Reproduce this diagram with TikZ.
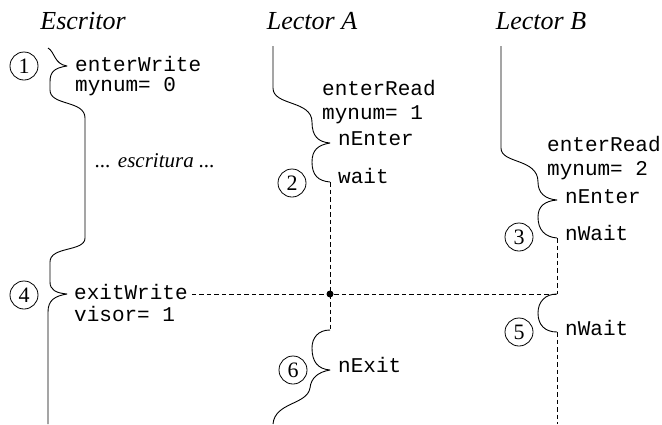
\documentclass[tikz,border=0pt]{standalone}
\usepackage{fontspec}
\setmainfont{Liberation Serif}
\setmonofont{Liberation Mono}
\begin{document}
\begin{tikzpicture}[x=1pt,y=-1pt,
  lifeline/.style={line width=0.9pt, line join=round},
  waitline/.style={line width=0.9pt, dash pattern=on 4.5pt off 3pt},
  title/.style={font=\fontsize{26}{30}\selectfont\itshape, anchor=base, inner sep=0},
  code/.style={font=\fontsize{21}{24}\ttfamily, anchor=base west, inner sep=0},
  note/.style={font=\fontsize{21}{24}\selectfont\itshape, anchor=base west, inner sep=0},
  stepnum/.style={circle, draw, line width=0.8pt, inner sep=0, minimum size=28pt,
    font=\fontsize{22}{24}\selectfont}]
\useasboundingbox (0,0) rectangle (662,424);

% column headings
\node[title] (tw) at (83,29) {Escritor};
\node[title] (ta) at (312,29) {Lector A};
\node[title] (tb) at (541,29) {Lector B};

% writer
\draw[lifeline] (48,48) .. controls (55,52) and (54,64) .. (67,66)
  .. controls (54,68) and (50,72) .. (50,82) -- (50,90)
  .. controls (50,106) and (85,100) .. (85,118) -- (85,238)
  .. controls (85,252) and (50,246) .. (50,262) -- (50,282)
  .. controls (50,290) and (56,293) .. (67,294)
  .. controls (55,296) and (48,300) .. (48,312) -- (48,424);
\node[stepnum] (s1) at (24,66) {1};
\node[code] (ew) at (75,71) {enterWrite};
\node[code] (m0) at (75,91) {mynum= 0};
\node[note] (es) at (95,167) {... escritura ...};
\node[stepnum] (s4) at (24,295) {4};
\node[code] (xw) at (74,299) {exitWrite};
\node[code] (v1) at (74,321) {visor= 1};

% reader A
\draw[lifeline] (273,46) -- (273,88)
  .. controls (273,106) and (312,100) .. (312,122)
  .. controls (312,136) and (318,142) .. (330,143)
  .. controls (318,145) and (312,150) .. (312,162)
  .. controls (312,175) and (318,181) .. (330,182);
\draw[waitline] (330,182) -- (330,330);
\draw[lifeline] (330,330) .. controls (318,330) and (312,338) .. (312,348)
  .. controls (312,362) and (318,369) .. (330,370)
  .. controls (318,372) and (311,378) .. (310,388)
  .. controls (307,405) and (275,402) .. (273,424);
\node[code] (ra) at (322,95) {enterRead};
\node[code] (m1) at (322,119) {mynum= 1};
\node[code] (na) at (338,145) {nEnter};
\node[code] (wa) at (338,183) {wait};
\node[stepnum] (s2) at (292,183) {2};
\node[code] (xa) at (338,372) {nExit};
\node[stepnum] (s6) at (293,370) {6};

% reader B
\draw[lifeline] (501,46) -- (501,148)
  .. controls (501,164) and (538,158) .. (538,182)
  .. controls (538,193) and (545,199) .. (557,200)
  .. controls (545,201) and (538,206) .. (538,217)
  .. controls (538,230) and (545,237) .. (557,238);
\draw[waitline] (557,238) -- (557,294);
\draw[lifeline] (557,294) .. controls (545,294) and (538,302) .. (538,313)
  .. controls (538,325) and (545,332) .. (557,332);
\draw[waitline] (557,332) -- (557,424);
\node[code] (rb) at (547,151) {enterRead};
\node[code] (m2) at (547,175) {mynum= 2};
\node[code] (nb) at (565,203) {nEnter};
\node[code] (wb) at (565,240) {nWait};
\node[stepnum] (s3) at (519,237) {3};
\node[code] (wb2) at (565,335) {nWait};
\node[stepnum] (s5) at (519,332) {5};

% release signal from the writer
\coordinate (sig) at (330,294);
\draw[waitline] (xw.east |- sig) ++(4,0) -- (557,294);
\fill (sig) circle (3.5pt);
\end{tikzpicture}
\end{document}
